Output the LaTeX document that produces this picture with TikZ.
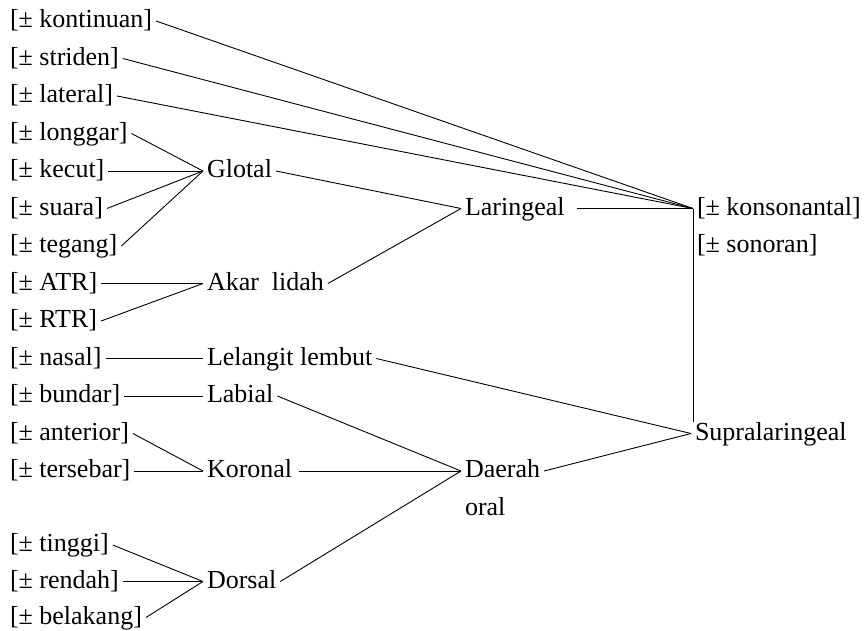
\documentclass[tikz,border=0pt]{standalone}
\usepackage{fontspec}
\setmainfont{Liberation Serif}
\begin{document}
\begin{tikzpicture}[x=1pt,y=-1pt,
  lbl/.style={anchor=base west, inner xsep=4pt, inner ysep=0pt, outer sep=0pt,
    text height=18pt, text depth=5pt, font=\fontsize{26}{30}\selectfont},
  edge/.style={draw, line width=0.9pt}]
\useasboundingbox (0,0) rectangle (864,630);

% left column of features
\node[lbl] (kontinuan) at (6,27.5)  {[± kontinuan]};
\node[lbl] (striden)   at (6,65)    {[± striden]};
\node[lbl] (lateral)   at (6,102.5) {[± lateral]};
\node[lbl] (longgar)   at (6,140)   {[± longgar]};
\node[lbl] (kecut)     at (6,177.5) {[± kecut]};
\node[lbl] (suara)     at (6,215)   {[± suara]};
\node[lbl] (tegang)    at (6,252.5) {[± tegang]};
\node[lbl] (atr)       at (6,290)   {[± ATR]};
\node[lbl] (rtr)       at (6,327.5) {[± RTR]};
\node[lbl] (nasal)     at (6,365)   {[± nasal]};
\node[lbl] (bundar)    at (6,402.5) {[± bundar]};
\node[lbl] (anterior)  at (6,440)   {[± anterior]};
\node[lbl] (tersebar)  at (6,477.5) {[± tersebar]};
\node[lbl] (tinggi)    at (6,551.5) {[± tinggi]};
\node[lbl] (rendah)    at (6,588)   {[± rendah]};
\node[lbl] (belakang)  at (6,624)   {[± belakang]};

% articulator nodes
\node[lbl] (glotal)   at (203,177.5) {Glotal};
\node[lbl] (akar)     at (203,290)   {Akar\ \ lidah};
\node[lbl] (lelangit) at (203,365)   {Lelangit lembut};
\node[lbl] (labial)   at (203,402.5) {Labial};
\node[lbl] (koronal)  at (203,477.5) {Koronal};
\node[lbl] (dorsal)   at (203,588)   {Dorsal};

% class nodes
\node[lbl] (laringeal) at (461,215)   {Laringeal};
\node[lbl] (daerah)    at (461,477.5) {Daerah};
\node[lbl] (oral)      at (461,515)   {oral};

% root and supralaryngeal
\node[lbl] (kons)    at (693,215)   {[± konsonantal]};
\node[lbl] (sonoran) at (693,252.5) {[± sonoran]};
\node[lbl] (supra)   at (691,440)   {Supralaringeal};

% connectors to the root
\path[edge] (kontinuan.east) -- (kons.west);
\path[edge] (striden.east) -- (kons.west);
\path[edge] (lateral.east) -- (kons.west);
\path[edge, shorten <=8pt] (laringeal.east) -- (kons.west);
\path[edge] (kons.west) -- (kons.west |- supra.north);

% laryngeal branch
\path[edge] (longgar.east) -- (glotal.west);
\path[edge] (kecut.east) -- (glotal.west);
\path[edge] (suara.east) -- (glotal.west);
\path[edge] (tegang.east) -- (glotal.west);
\path[edge] (atr.east) -- (akar.west);
\path[edge] (rtr.east) -- (akar.west);
\path[edge] (glotal.east) -- (laringeal.west);
\path[edge] (akar.east) -- (laringeal.west);

% supralaryngeal branch
\path[edge] (nasal.east) -- (lelangit.west);
\path[edge] (lelangit.east) -- (supra.west);
\path[edge] (bundar.east) -- (labial.west);
\path[edge] (anterior.east) -- (koronal.west);
\path[edge] (tersebar.east) -- (koronal.west);
\path[edge] (tinggi.east) -- (dorsal.west);
\path[edge] (rendah.east) -- (dorsal.west);
\path[edge] (belakang.east) -- (dorsal.west);
\path[edge] (labial.east) -- (daerah.west);
\path[edge, shorten <=3pt] (koronal.east) -- (daerah.west);
\path[edge] (dorsal.east) -- (daerah.west);
\path[edge] (daerah.east) -- (supra.west);
\end{tikzpicture}
\end{document}
